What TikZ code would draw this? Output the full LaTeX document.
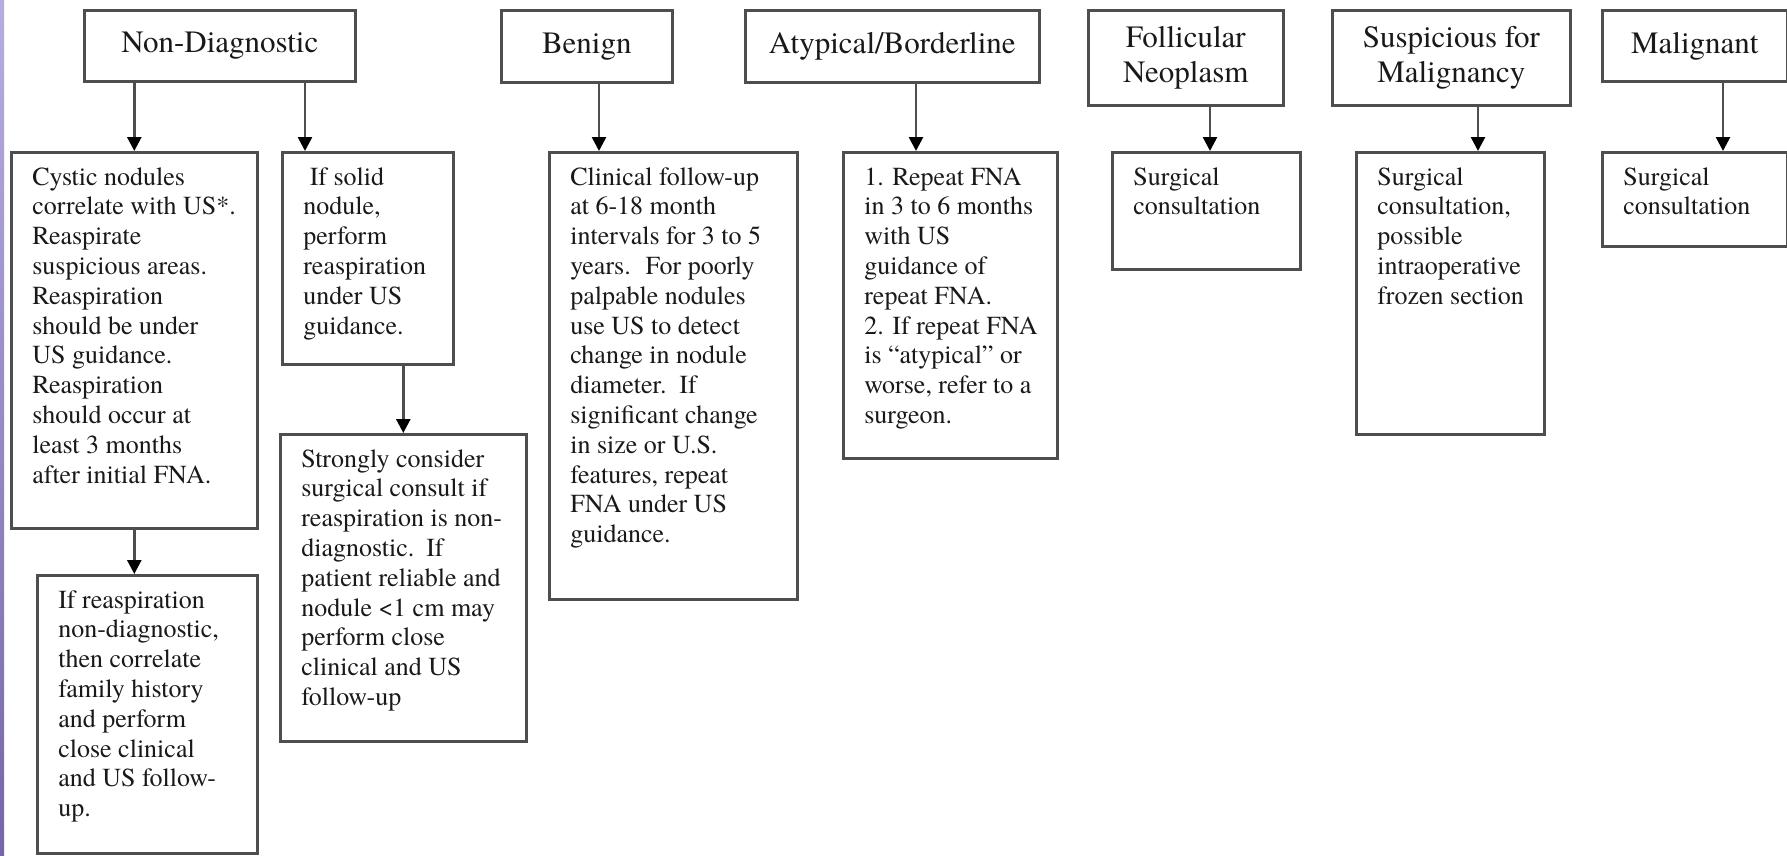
\documentclass[tikz,border=0pt]{standalone}
\usepackage{fontspec}
\setmainfont{texgyretermes-regular.otf}
\usetikzlibrary{positioning,arrows.meta}

\definecolor{edge}{RGB}{78,78,78}
\definecolor{stripA}{RGB}{184,173,225}
\definecolor{stripB}{RGB}{118,102,168}

\newcommand{\restext}[3]{\parbox[t][#2pt][t]{#1pt}{\begin{tabular}[t]{@{}l@{}}#3\end{tabular}}}

\tikzset{
  cat/.style={draw=edge,line width=2.6pt,fill=white,anchor=north west,inner sep=0pt,
    align=center,text=black!90,font=\fontsize{31}{35}\selectfont},
  res/.style={draw=edge,line width=2.6pt,fill=white,anchor=north west,inner xsep=21pt,
    inner ysep=12pt,text=black!90,font=\fontsize{26}{29.8}\selectfont},
  link/.style={->,>={Triangle[width=14pt,length=14pt,color=black]},line width=2.6pt,draw=edge}
}

\begin{document}
\begin{tikzpicture}[x=1pt,y=-1pt]
\useasboundingbox (0,0) rectangle (1787,855);
\fill[white] (0,0) rectangle (1787,855);
\shade[top color=stripA,bottom color=stripB] (0,0) rectangle (4,855);

% categories
\node[cat,minimum width=271,minimum height=71] (nd) at (83,9) {Non-Diagnostic};
\node[cat,minimum width=171,minimum height=72] (ben) at (500,9) {Benign};
\node[cat,minimum width=294,minimum height=72] (atyp) at (744,9) {Atypical/Borderline};
\node[cat,minimum width=195,minimum height=95] (foll) at (1087,9) {Follicular\\Neoplasm};
\node[cat,minimum width=238,minimum height=95] (susp) at (1331,9) {Suspicious for\\Malignancy};
\node[cat,minimum width=185,minimum height=71] (mal) at (1601,9) {Malignant};

% management
\node[res] (cyst) at (10,151) {\restext{204}{352}{Cystic nodules\\correlate with US*.\\Reaspirate\\suspicious areas.\\Reaspiration\\should be under\\US guidance.\\Reaspiration\\should occur at\\least 3 months\\after initial FNA.}};
\node[res] (solid) at (281,151) {\restext{129}{188}{\ If solid\\nodule,\\perform\\reaspiration\\under US\\guidance.}};
\node[res] (strong) at (279,433) {\restext{204}{283}{Strongly consider\\surgical consult if\\reaspiration is non-\\diagnostic.\hspace{12pt}If\\patient reliable and\\nodule <1 cm may\\perform close\\clinical and US\\follow-up}};
\node[res] (reasp) at (36,574) {\restext{178}{254}{If reaspiration\\non-diagnostic,\\then correlate\\family history\\and perform\\close clinical\\and US follow-\\up.}};
\node[res] (clin) at (548,151) {\restext{206}{423}{Clinical follow-up\\at 6-18 month\\intervals for 3 to 5\\years.\hspace{15pt}For poorly\\palpable nodules\\use US to detect\\change in nodule\\diameter.\hspace{13pt}If\\significant change\\in size or U.S.\\features, repeat\\FNA under US\\guidance.}};
\node[res] (rep) at (842,151) {\restext{172}{282}{1. Repeat FNA\\in 3 to 6 months\\with US\\guidance of\\repeat FNA.\\2. If repeat FNA\\is “atypical” or\\worse, refer to a\\surgeon.}};
\node[res] (surgA) at (1111,151) {\restext{146}{93}{Surgical\\consultation}};
\node[res] (surgB) at (1355,151) {\restext{146}{258}{Surgical\\consultation,\\possible\\intraoperative\\frozen section}};
\node[res] (surgC) at (1601,151) {\restext{143}{70}{Surgical\\consultation}};

\draw[link] (nd.south -| cyst.north) -- (cyst.north);
\draw[link] (nd.south -| 305,0) -- (solid.north -| 305,0);
\draw[link] (ben.south -| 599,0) -- (clin.north -| 599,0);
\draw[link] (atyp.south -| 916,0) -- (rep.north -| 916,0);
\draw[link] (foll.south -| 1210,0) -- (surgA.north -| 1210,0);
\draw[link] (susp.south -| 1478,0) -- (surgB.north -| 1478,0);
\draw[link] (mal.south -| 1723,0) -- (surgC.north -| 1723,0);
\draw[link] (solid.south -| strong.north) -- (strong.north);
\draw[link] (cyst.south) -- (reasp.north -| cyst.south);
\end{tikzpicture}
\end{document}
